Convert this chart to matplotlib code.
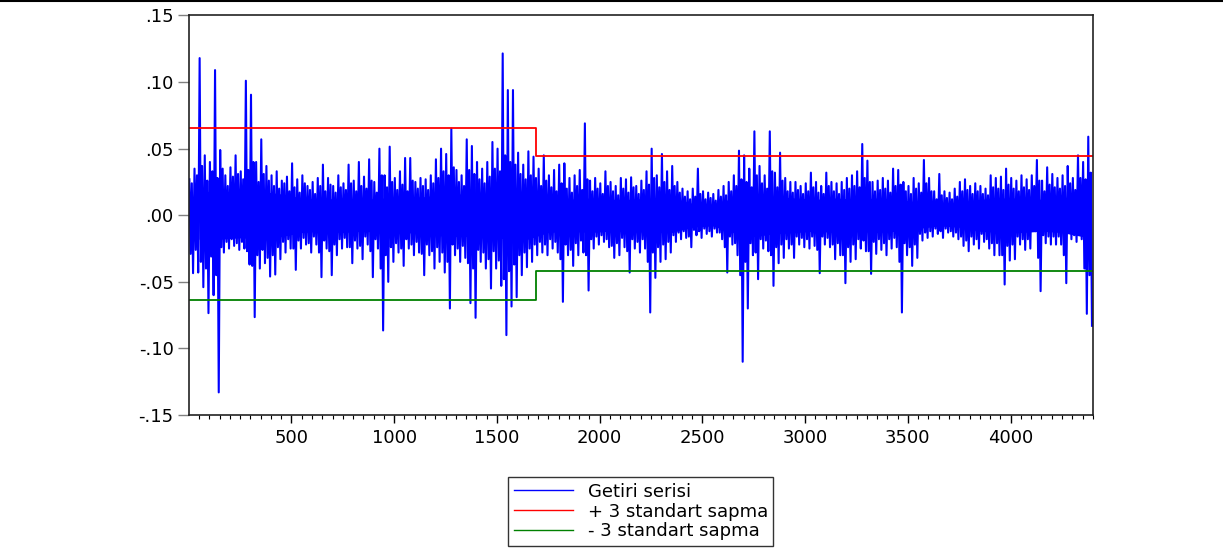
import numpy as np
import matplotlib
matplotlib.use("Agg")
import matplotlib.pyplot as plt
from matplotlib.lines import Line2D
from matplotlib.ticker import MultipleLocator, FuncFormatter

# data: per 25-day block, highest and lowest return
BLOCK = 25
peaks = [
    0.027, 0.035, 0.118, 0.045, 0.040, 0.109, 0.049, 0.030, 0.036, 0.045,
    0.033, 0.101, 0.0905, 0.040, 0.057, 0.037, 0.030, 0.033, 0.026, 0.029,
    0.039, 0.027, 0.030, 0.022, 0.025, 0.028, 0.038, 0.028, 0.022, 0.030,
    0.024, 0.038, 0.026, 0.040, 0.029, 0.042, 0.025, 0.050, 0.030, 0.0515,
    0.028, 0.033, 0.043, 0.043, 0.025, 0.028, 0.027, 0.030, 0.042, 0.050,
    0.046, 0.065, 0.034, 0.030, 0.057, 0.052, 0.040, 0.035, 0.040, 0.055,
    0.050, 0.1215, 0.094, 0.094, 0.047, 0.038, 0.048, 0.044, 0.035, 0.045,
    0.030, 0.034, 0.038, 0.039, 0.028, 0.030, 0.034, 0.069, 0.026, 0.028,
    0.024, 0.033, 0.025, 0.022, 0.028, 0.027, 0.0285, 0.022, 0.026, 0.033,
    0.050, 0.030, 0.046, 0.033, 0.037, 0.025, 0.020, 0.018, 0.020, 0.035,
    0.018, 0.017, 0.016, 0.019, 0.022, 0.025, 0.030, 0.0485, 0.045, 0.035,
    0.063, 0.037, 0.030, 0.063, 0.032, 0.047, 0.028, 0.025, 0.025, 0.022,
    0.024, 0.032, 0.025, 0.022, 0.032, 0.025, 0.024, 0.025, 0.028, 0.030,
    0.033, 0.0535, 0.041, 0.025, 0.026, 0.028, 0.026, 0.035, 0.034, 0.025,
    0.022, 0.028, 0.024, 0.0415, 0.028, 0.018, 0.031, 0.018, 0.017, 0.020,
    0.025, 0.027, 0.022, 0.024, 0.022, 0.020, 0.030, 0.028, 0.029, 0.035,
    0.028, 0.026, 0.030, 0.027, 0.030, 0.0415, 0.026, 0.036, 0.031, 0.028,
    0.030, 0.037, 0.028, 0.045, 0.040, 0.059,
]
troughs = [
    -0.0435, -0.043, -0.054, -0.0735, -0.060, -0.133, -0.028, -0.025, -0.023, -0.026,
    -0.025, -0.037, -0.0765, -0.040, -0.036, -0.046, -0.0445, -0.033, -0.028, -0.025,
    -0.041, -0.025, -0.022, -0.028, -0.022, -0.0465, -0.025, -0.045, -0.030, -0.025,
    -0.024, -0.036, -0.025, -0.033, -0.022, -0.0465, -0.025, -0.0865, -0.050, -0.035,
    -0.028, -0.038, -0.025, -0.030, -0.028, -0.045, -0.030, -0.040, -0.035, -0.043,
    -0.070, -0.030, -0.035, -0.032, -0.066, -0.077, -0.035, -0.040, -0.055, -0.040,
    -0.053, -0.090, -0.0685, -0.0615, -0.045, -0.039, -0.035, -0.030, -0.028, -0.030,
    -0.025, -0.028, -0.065, -0.030, -0.038, -0.030, -0.028, -0.0565, -0.025, -0.022,
    -0.020, -0.024, -0.032, -0.030, -0.024, -0.043, -0.025, -0.028, -0.025, -0.073,
    -0.047, -0.035, -0.033, -0.028, -0.020, -0.018, -0.017, -0.024, -0.015, -0.017,
    -0.014, -0.016, -0.013, -0.018, -0.043, -0.022, -0.030, -0.110, -0.070, -0.030,
    -0.048, -0.025, -0.027, -0.053, -0.036, -0.032, -0.025, -0.032, -0.022, -0.024,
    -0.025, -0.023, -0.0435, -0.022, -0.024, -0.033, -0.030, -0.051, -0.035, -0.033,
    -0.025, -0.027, -0.044, -0.029, -0.026, -0.030, -0.025, -0.024, -0.073, -0.030,
    -0.038, -0.032, -0.019, -0.017, -0.016, -0.014, -0.017, -0.013, -0.016, -0.018,
    -0.023, -0.027, -0.022, -0.025, -0.020, -0.025, -0.030, -0.030, -0.052, -0.034,
    -0.033, -0.022, -0.026, -0.025, -0.012, -0.057, -0.021, -0.022, -0.022, -0.022,
    -0.051, -0.018, -0.020, -0.018, -0.074, -0.083,
]
# second-largest swings in each block (estimated from the band edge)
sec_peaks = [
    0.024, 0.030, 0.037, 0.026, 0.033, 0.028, 0.035, 0.022, 0.029, 0.031,
    0.027, 0.034, 0.040, 0.025, 0.031, 0.026, 0.022, 0.020, 0.024, 0.018,
    0.021, 0.017, 0.024, 0.019, 0.016, 0.022, 0.018, 0.023, 0.017, 0.021,
    0.019, 0.024, 0.018, 0.022, 0.020, 0.026, 0.017, 0.030, 0.021, 0.025,
    0.019, 0.023, 0.018, 0.026, 0.020, 0.022, 0.019, 0.024, 0.028, 0.033,
    0.030, 0.036, 0.025, 0.022, 0.034, 0.031, 0.027, 0.024, 0.029, 0.035,
    0.033, 0.045, 0.040, 0.038, 0.031, 0.027, 0.030, 0.028, 0.022, 0.026,
    0.021, 0.018, 0.024, 0.020, 0.017, 0.022, 0.019, 0.027, 0.018, 0.020,
    0.016, 0.022, 0.018, 0.015, 0.020, 0.017, 0.021, 0.016, 0.019, 0.023,
    0.028, 0.021, 0.025, 0.019, 0.022, 0.017, 0.014, 0.012, 0.014, 0.016,
    0.012, 0.013, 0.011, 0.014, 0.015, 0.018, 0.022, 0.027, 0.025, 0.021,
    0.030, 0.024, 0.020, 0.033, 0.021, 0.026, 0.018, 0.017, 0.019, 0.016,
    0.018, 0.021, 0.017, 0.016, 0.022, 0.018, 0.016, 0.019, 0.020, 0.022,
    0.021, 0.028, 0.025, 0.018, 0.019, 0.020, 0.017, 0.022, 0.023, 0.018,
    0.016, 0.020, 0.017, 0.024, 0.018, 0.012, 0.015, 0.013, 0.012, 0.014,
    0.018, 0.019, 0.016, 0.018, 0.016, 0.015, 0.021, 0.020, 0.019, 0.023,
    0.020, 0.018, 0.021, 0.019, 0.022, 0.026, 0.018, 0.023, 0.021, 0.020,
    0.022, 0.024, 0.019, 0.028, 0.027, 0.032,
]
sec_troughs = [
    -0.029, -0.026, -0.035, -0.040, -0.031, -0.045, -0.024, -0.020, -0.018, -0.021,
    -0.020, -0.027, -0.038, -0.030, -0.026, -0.032, -0.030, -0.024, -0.020, -0.018,
    -0.025, -0.019, -0.017, -0.021, -0.016, -0.028, -0.019, -0.027, -0.022, -0.018,
    -0.017, -0.024, -0.019, -0.023, -0.016, -0.027, -0.018, -0.040, -0.030, -0.024,
    -0.021, -0.025, -0.018, -0.022, -0.020, -0.029, -0.022, -0.027, -0.024, -0.028,
    -0.035, -0.022, -0.025, -0.023, -0.036, -0.040, -0.026, -0.028, -0.033, -0.027,
    -0.034, -0.048, -0.042, -0.037, -0.030, -0.028, -0.025, -0.022, -0.020, -0.022,
    -0.018, -0.020, -0.033, -0.022, -0.026, -0.021, -0.019, -0.030, -0.018, -0.016,
    -0.015, -0.018, -0.023, -0.021, -0.017, -0.027, -0.018, -0.020, -0.018, -0.035,
    -0.028, -0.024, -0.022, -0.020, -0.015, -0.013, -0.012, -0.016, -0.011, -0.012,
    -0.010, -0.012, -0.010, -0.013, -0.024, -0.016, -0.021, -0.045, -0.035, -0.021,
    -0.028, -0.018, -0.019, -0.030, -0.024, -0.022, -0.018, -0.022, -0.016, -0.017,
    -0.018, -0.016, -0.026, -0.016, -0.017, -0.022, -0.021, -0.030, -0.024, -0.022,
    -0.018, -0.019, -0.027, -0.020, -0.018, -0.021, -0.018, -0.017, -0.035, -0.021,
    -0.024, -0.022, -0.014, -0.013, -0.012, -0.010, -0.012, -0.010, -0.012, -0.013,
    -0.016, -0.019, -0.016, -0.018, -0.014, -0.018, -0.021, -0.021, -0.030, -0.023,
    -0.022, -0.016, -0.018, -0.018, -0.010, -0.032, -0.015, -0.016, -0.016, -0.016,
    -0.030, -0.013, -0.015, -0.013, -0.040, -0.045,
]

# half-width of the solid (dense) part of the series, per 100 days
CORE_STEP = 100
core_half = [
    0.018, 0.018, 0.017, 0.018, 0.016,
    0.013, 0.012, 0.013, 0.012, 0.013, 0.013,
    0.014, 0.016, 0.016, 0.016, 0.018, 0.018,
    0.013, 0.012, 0.013, 0.012, 0.012, 0.013, 0.013,
    0.009, 0.008,
    0.013, 0.016, 0.014, 0.013,
    0.012, 0.013, 0.012, 0.013, 0.012, 0.010,
    0.008, 0.009,
    0.012, 0.013, 0.013, 0.012, 0.013, 0.016,
]

# +/- 3 standard deviation bands, two regimes
band_days = [1, 1690, 4401]
upper_band = [0.0657, 0.0445, 0.0445]
lower_band = [-0.0639, -0.0419, -0.0419]

labels = ["Getiri serisi", "+ 3 standart sapma", "- 3 standart sapma"]

plt.rcParams["font.family"] = ["DejaVu Sans"]
FS = 13

# four points per block: peak, 2nd trough, 2nd peak, trough
n = len(peaks)
k = np.arange(n)
days = np.empty(4 * n)
ret = np.empty(4 * n)
days[0::4] = k * BLOCK + 3
days[1::4] = k * BLOCK + 9
days[2::4] = k * BLOCK + 15
days[3::4] = k * BLOCK + 21
ret[0::4] = peaks
ret[1::4] = sec_troughs
ret[2::4] = sec_peaks
ret[3::4] = troughs

core_days = np.arange(len(core_half)) * CORE_STEP + CORE_STEP / 2
core = np.array(core_half)

fig = plt.figure(figsize=(12.23, 5.53), dpi=100)
ax = fig.add_axes([0.1545, 0.2495, 0.7392, 0.7225])

ax.fill_between(core_days, -core, core, color="#0000FF", lw=0)
l1, = ax.plot(days, ret, color="#0000FF", lw=1.5)
l2, = ax.plot(band_days, upper_band, color="#FF0000", lw=1.3, drawstyle="steps-post")
l3, = ax.plot(band_days, lower_band, color="#008000", lw=1.3, drawstyle="steps-post")

ax.set_xlim(1, 4401)
ax.set_ylim(-0.15, 0.15)
ax.xaxis.set_minor_locator(MultipleLocator(50))
ax.yaxis.set_major_locator(MultipleLocator(0.05))
ax.set_xticks([500, 1000, 1500, 2000, 2500, 3000, 3500, 4000])


def fmt_y(v, pos):
    s = f"{v:.2f}"
    if s.startswith("-0"):
        return "-" + s[2:]
    if s.startswith("0"):
        return s[1:]
    return s


ax.yaxis.set_major_formatter(FuncFormatter(fmt_y))
ax.tick_params(axis="y", direction="out", length=8, width=1, color="#808080",
               labelsize=FS, pad=3)
ax.tick_params(axis="x", which="major", direction="out", length=6, width=1,
               labelsize=FS, pad=4)
ax.tick_params(axis="x", which="minor", direction="out", length=3, width=0.8)
for sp in ax.spines.values():
    sp.set_linewidth(1.2)
    sp.set_color("#222222")

# thin rule along the top of the figure
fig.add_artist(Line2D([0, 1], [0.999, 0.999], transform=fig.transFigure,
                      color="black", lw=1.5))

leg = fig.legend([l1, l2, l3], labels, loc="center", bbox_to_anchor=(0.524, 0.075),
                 fontsize=FS, frameon=True, fancybox=False, edgecolor="black",
                 handlelength=3.3, handletextpad=0.8, labelspacing=0.1,
                 borderpad=0.3, borderaxespad=0)
leg.get_frame().set_linewidth(1.0)
for h in leg.get_lines():
    h.set_linewidth(1.0)

fig.savefig("out.png", dpi=100)
